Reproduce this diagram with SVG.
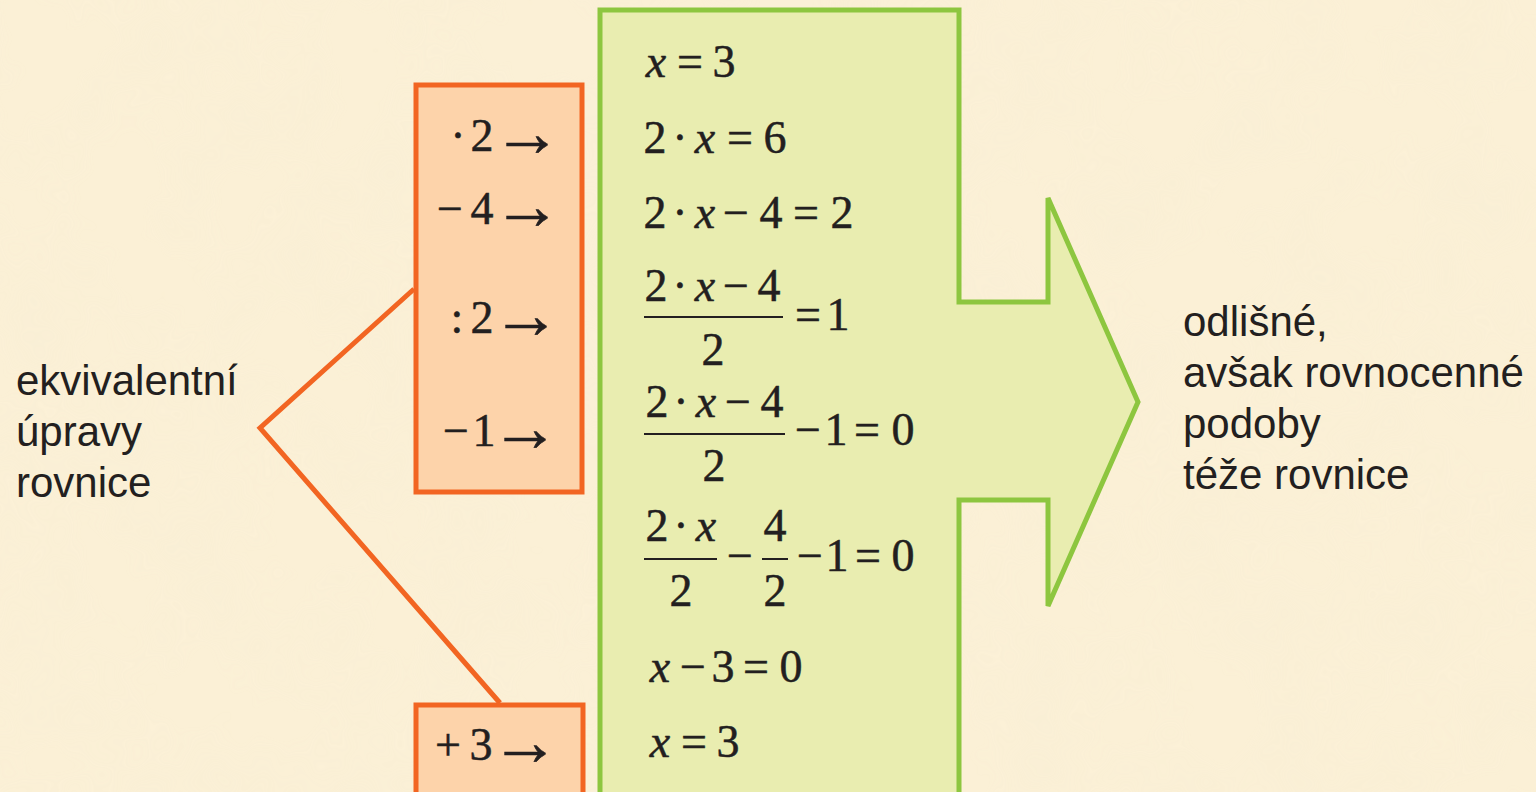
<svg xmlns="http://www.w3.org/2000/svg" width="1536" height="792" viewBox="0 0 1536 792">
<style>
.bg{fill:#FBF0D6}
.box{fill:#FDD3AA;stroke:#F26522;stroke-width:5}
.green{fill:#E9EDB0;stroke:#8DC63F;stroke-width:5}
.conn{fill:none;stroke:#F26522;stroke-width:5}
.m{font-family:"Liberation Serif","Times New Roman",serif;font-size:46px;fill:#231F20;stroke:#231F20;stroke-width:0.5;text-anchor:middle}
.ar{font-size:69px}
.i{font-style:italic}
.s{font-family:"Liberation Sans",Arial,sans-serif;font-size:42px;fill:#231F20}
.fl{stroke:#231F20;stroke-width:2}
</style>
<defs>
<filter id="tex" x="0" y="0" width="100%" height="100%">
<feTurbulence type="fractalNoise" baseFrequency="0.012" numOctaves="3" seed="4"/>
<feColorMatrix type="matrix" values="0 0 0 0 0.93  0 0 0 0 0.85  0 0 0 0 0.66  0 0 0 0.9 -0.35"/>
</filter>
</defs>
<rect class="bg" x="0" y="0" width="1536" height="792"/>
<rect x="0" y="0" width="1536" height="792" filter="url(#tex)" opacity="0.8"/>

<g id="connectors">
<polyline class="conn" points="414,289 260,428 500,703"/>
</g>

<g id="ops-box">
<rect class="box" x="416" y="85" width="166" height="407"/>
<text class="m" x="458" y="151">·</text><text class="m" x="482" y="151">2</text><text class="m ar" x="527" y="156">→</text>
<text class="m" x="450" y="224">−</text><text class="m" x="482" y="224">4</text><text class="m ar" x="527" y="229">→</text>
<text class="m" x="457" y="333">:</text><text class="m" x="482" y="333">2</text><text class="m ar" x="526" y="338">→</text>
<text class="m" x="456" y="446">−</text><text class="m" x="484" y="446">1</text><text class="m ar" x="525" y="451">→</text>
</g>

<g id="ops-box-2">
<rect class="box" x="416" y="705" width="167" height="100"/>
<text class="m" x="448" y="760">+</text><text class="m" x="481" y="760">3</text><text class="m ar" x="525" y="765">→</text>
</g>

<g id="equations">
<path class="green" d="M600,10 H959 V302 H1048 V198 L1138,402 L1048,606 V500 H959 V800 H600 Z"/>
<text class="m i" x="656" y="77">x</text><text class="m" x="690" y="77">=</text><text class="m" x="724" y="77">3</text>
<text class="m" x="655" y="153">2</text><text class="m" x="680" y="153">·</text><text class="m i" x="705" y="153">x</text><text class="m" x="740" y="153">=</text><text class="m" x="775" y="153">6</text>
<text class="m" x="655" y="228">2</text><text class="m" x="680" y="228">·</text><text class="m i" x="705" y="228">x</text><text class="m" x="736" y="228">−</text><text class="m" x="771" y="228">4</text><text class="m" x="806" y="228">=</text><text class="m" x="842" y="228">2</text>
<text class="m" x="656" y="301">2</text><text class="m" x="680" y="301">·</text><text class="m i" x="705" y="301">x</text><text class="m" x="736" y="301">−</text><text class="m" x="769" y="301">4</text>
<line class="fl" x1="644" y1="317" x2="783" y2="317"/>
<text class="m" x="713" y="365">2</text>
<text class="m" x="808" y="330">=</text><text class="m" x="838" y="330">1</text>
<text class="m" x="657" y="417">2</text><text class="m" x="681" y="417">·</text><text class="m i" x="706" y="417">x</text><text class="m" x="738" y="417">−</text><text class="m" x="772" y="417">4</text>
<line class="fl" x1="644" y1="434" x2="785" y2="434"/>
<text class="m" x="714" y="481">2</text>
<text class="m" x="808" y="445">−</text><text class="m" x="836" y="445">1</text><text class="m" x="867" y="445">=</text><text class="m" x="903" y="445">0</text>
<text class="m" x="657" y="541">2</text><text class="m" x="681" y="541">·</text><text class="m i" x="706" y="541">x</text>
<line class="fl" x1="644" y1="559" x2="717" y2="559"/>
<text class="m" x="681" y="606">2</text>
<text class="m" x="740" y="571">−</text>
<text class="m" x="775" y="541">4</text>
<line class="fl" x1="762" y1="559" x2="788" y2="559"/>
<text class="m" x="775" y="606">2</text>
<text class="m" x="810" y="571">−</text><text class="m" x="837" y="571">1</text><text class="m" x="868" y="571">=</text><text class="m" x="903" y="571">0</text>
<text class="m i" x="660" y="682">x</text><text class="m" x="693" y="682">−</text><text class="m" x="723" y="682">3</text><text class="m" x="756" y="682">=</text><text class="m" x="791" y="682">0</text>
<text class="m i" x="660" y="757">x</text><text class="m" x="694" y="757">=</text><text class="m" x="728" y="757">3</text>
</g>

<g id="left-label">
<text class="s" x="16" y="395">ekvivalentní</text>
<text class="s" x="16" y="446">úpravy</text>
<text class="s" x="16" y="497">rovnice</text>
</g>

<g id="right-label">
<text class="s" x="1183" y="336">odlišné,</text>
<text class="s" x="1183" y="387">avšak rovnocenné</text>
<text class="s" x="1183" y="438">podoby</text>
<text class="s" x="1183" y="489">téže rovnice</text>
</g>
</svg>
